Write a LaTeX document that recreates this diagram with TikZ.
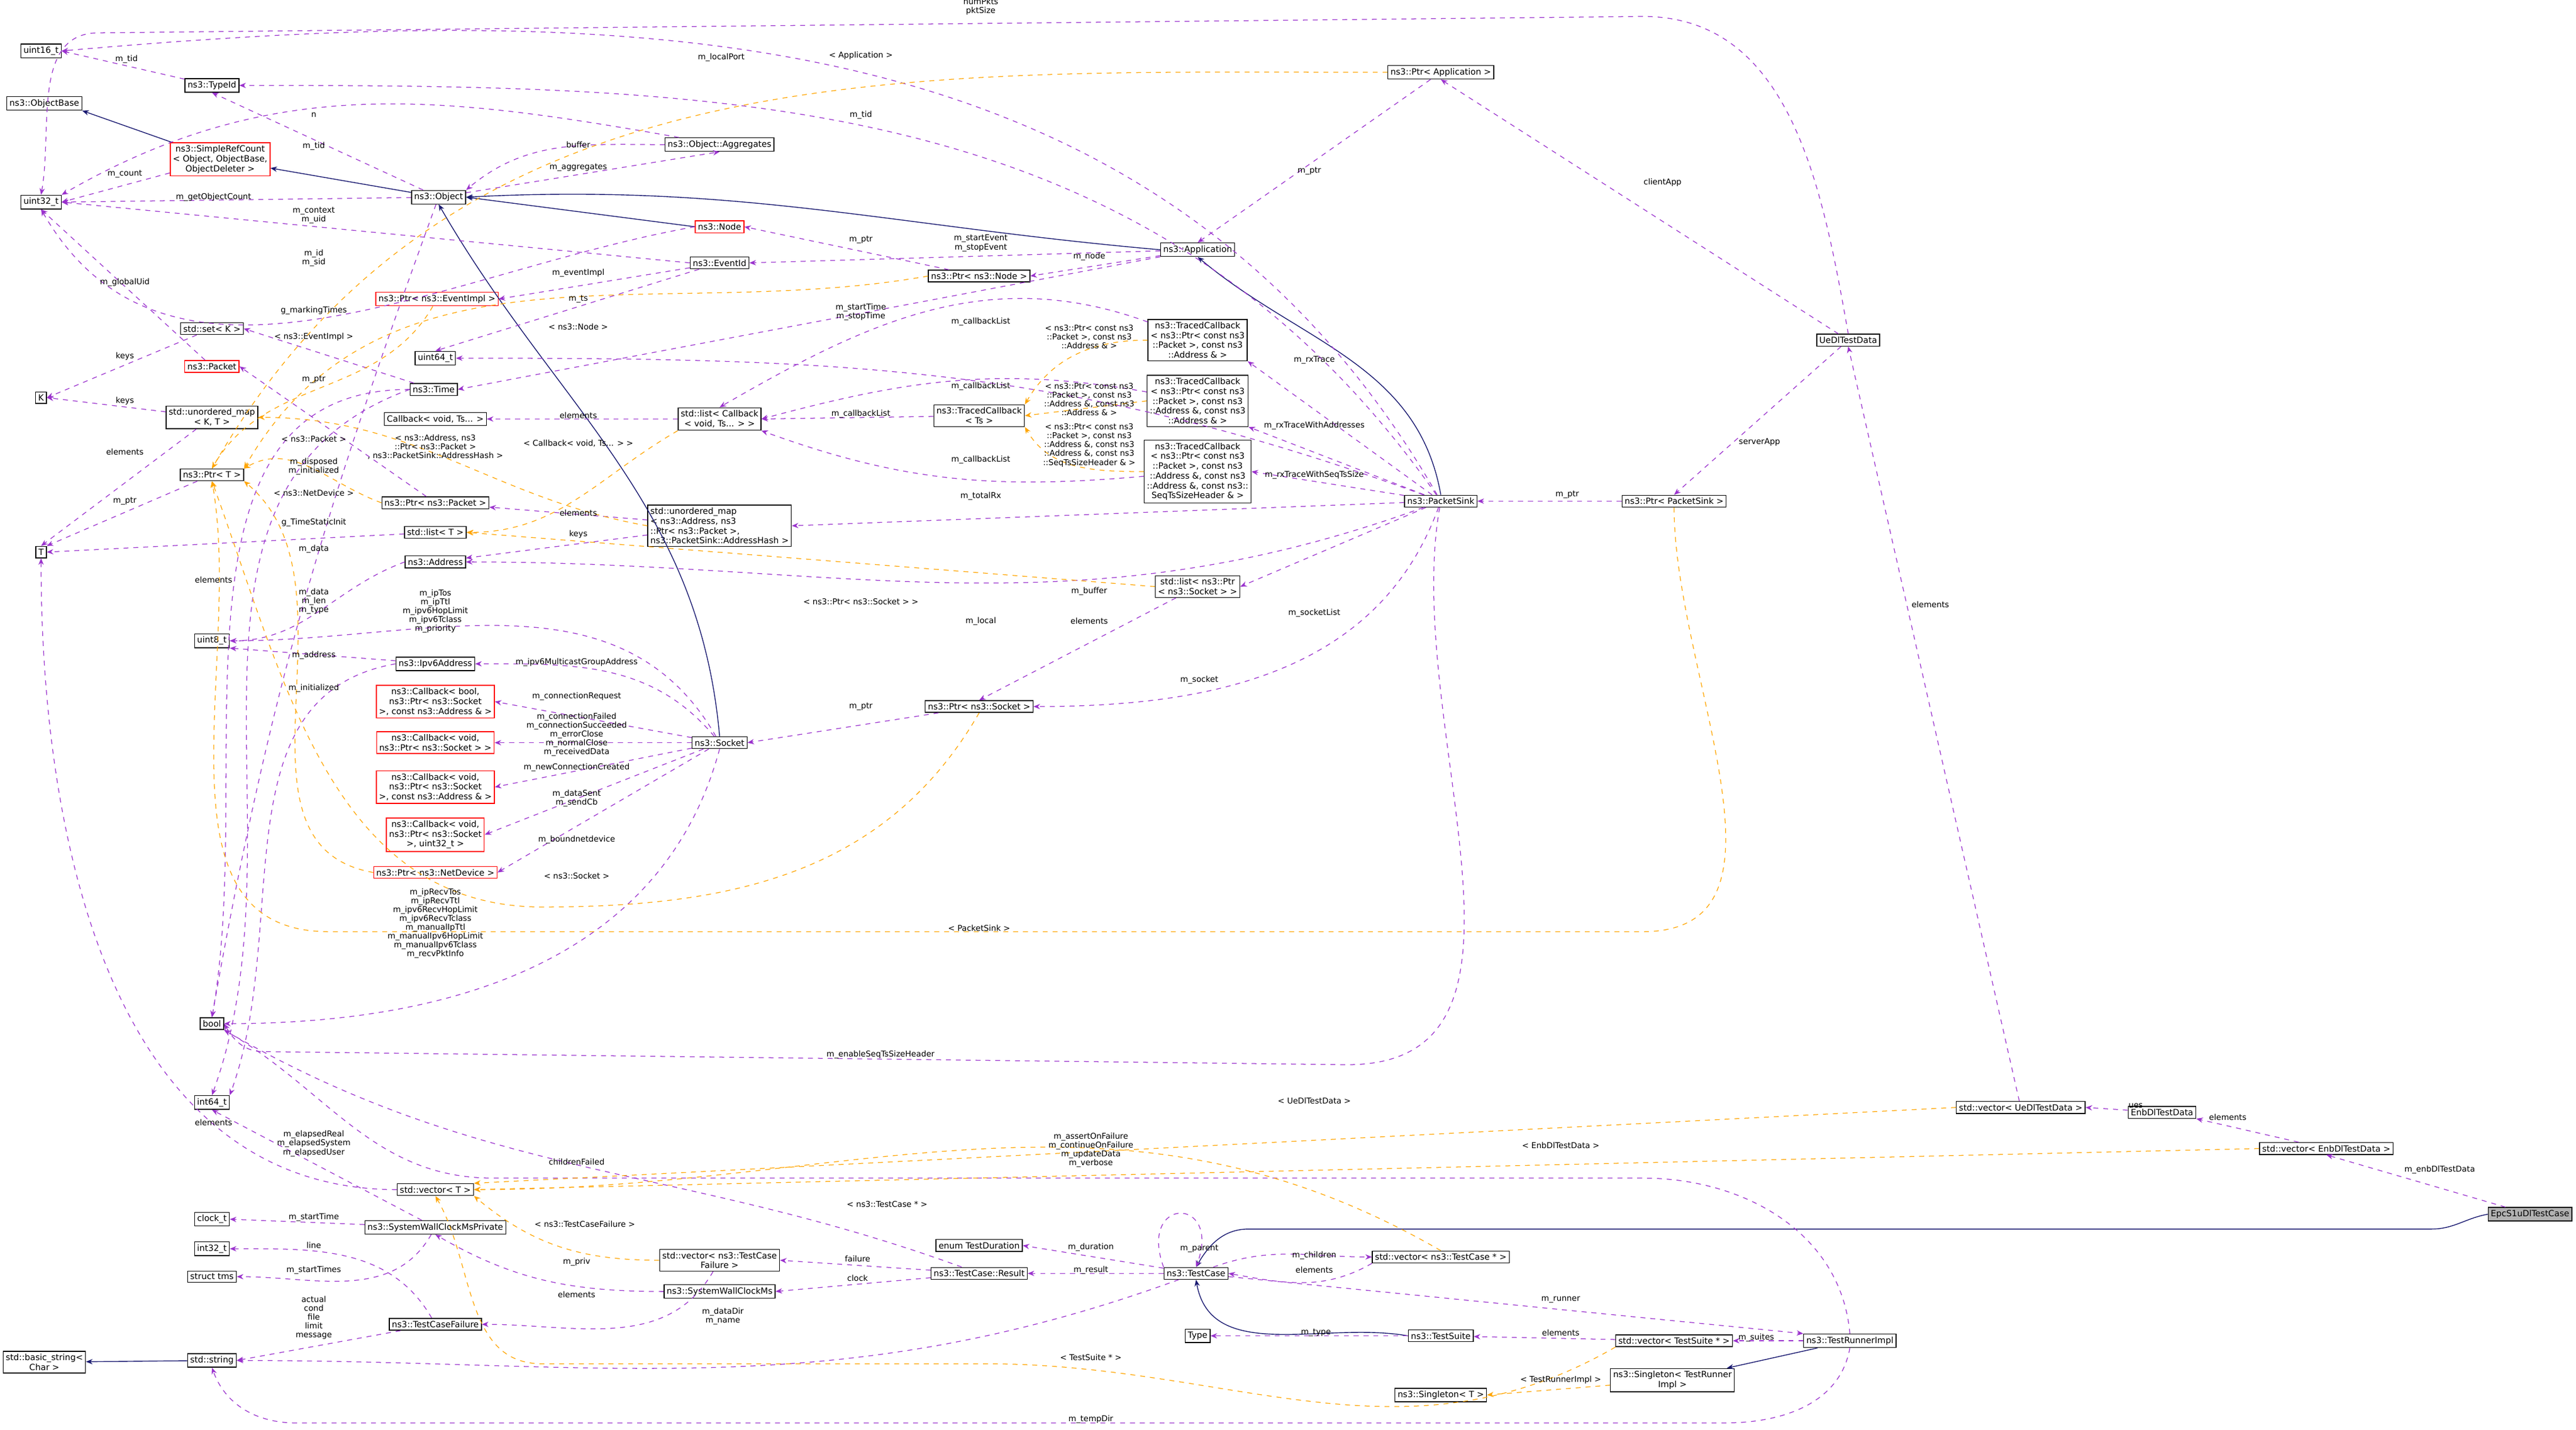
\documentclass[tikz,border=0pt]{standalone}
\usepackage{fontspec}
\setmainfont{DejaVu Sans}
\usetikzlibrary{arrows.meta}
\definecolor{usec}{HTML}{9A32CD}
\definecolor{tplc}{HTML}{FFA500}
\definecolor{inhc}{HTML}{191970}
\tikzset{
 cls/.style={draw=black,fill=white,font=\fontsize{5.2}{6}\selectfont,inner sep=1.6pt,align=center,line width=0.5pt},
 redcls/.style={cls,draw=red},
 uses/.style={draw=usec,dashed,line width=0.45pt,-{Stealth[length=4pt,width=3.2pt]}},
 tpl/.style={draw=tplc,dashed,line width=0.45pt,-{Stealth[length=4pt,width=3.2pt]}},
 inh/.style={draw=inhc,line width=0.5pt,-{Stealth[length=4pt,width=3.2pt]}},
 lbl/.style={font=\fontsize{4.9}{5.4}\selectfont,align=center,text=black,inner sep=0.3pt}
}
\begin{document}
\begin{tikzpicture}[x=1pt,y=-1pt]
\useasboundingbox (0,0) rectangle (1568,870.3);
% edges are drawn first, nodes afterwards on top: we need named nodes first, so define nodes, then edges on background via ordering trick
\node[cls] (u16) at (25,31) {uint16\_t};
\node[cls] (tid) at (129,52) {ns3::TypeId};
\node[cls] (obase) at (27,63) {ns3::ObjectBase};
\node[redcls] (src) at (134,97) {ns3::SimpleRefCount\\< Object, ObjectBase,\\ ObjectDeleter >};
\node[cls] (u32) at (25,123) {uint32\_t};
\node[cls] (obj) at (267,120) {ns3::Object};
\node[cls] (agg) at (438,88) {ns3::Object::Aggregates};
\node[redcls] (node) at (438,138) {ns3::Node};
\node[cls] (eid) at (438,160) {ns3::EventId};
\node[redcls] (pev) at (266,182) {ns3::Ptr< ns3::EventImpl >};
\node[cls] (setk) at (129,200) {std::set< K >};
\node[redcls] (pkt) at (129,223) {ns3::Packet};
\node[cls] (u64) at (265,218) {uint64\_t};
\node[cls] (time) at (264,237) {ns3::Time};
\node[cls] (K) at (25,242) {K};
\node[cls] (umkt) at (129,254) {std::unordered\_map\\< K, T >};
\node[cls] (cbv) at (265,255) {Callback< void, Ts... >};
\node[cls] (lcb) at (438,255) {std::list< Callback\\< void, Ts... > >};
\node[cls] (ptrT) at (129,289) {ns3::Ptr< T >};
\node[cls] (ppkt) at (265,306) {ns3::Ptr< ns3::Packet >};
\node[cls] (listT) at (265,324) {std::list< T >};
\node[cls,align=left] (umah) at (438,320) {std::unordered\_map\\< ns3::Address, ns3\\::Ptr< ns3::Packet >,\\ ns3::PacketSink::AddressHash >};
\node[cls] (T) at (25,336) {T};
\node[cls] (addr) at (265,342) {ns3::Address};
\node[cls] (u8) at (129,390) {uint8\_t};
\node[cls] (ipv6) at (265,404) {ns3::Ipv6Address};
\node[redcls] (cb1) at (265,427) {ns3::Callback< bool,\\ ns3::Ptr< ns3::Socket\\ >, const ns3::Address \& >};
\node[redcls] (cb2) at (265,452) {ns3::Callback< void,\\ ns3::Ptr< ns3::Socket > >};
\node[redcls] (cb3) at (265,479) {ns3::Callback< void,\\ ns3::Ptr< ns3::Socket\\ >, const ns3::Address \& >};
\node[redcls] (cb4) at (265,508) {ns3::Callback< void,\\ ns3::Ptr< ns3::Socket\\ >, uint32\_t >};
\node[redcls] (pnd) at (265,531) {ns3::Ptr< ns3::NetDevice >};
\node[cls] (sock) at (438,452) {ns3::Socket};
\node[cls] (bool) at (129,623) {bool};
\node[cls] (i64) at (129,671) {int64\_t};
\node[cls] (vecT) at (265,724) {std::vector< T >};
\node[cls] (clk) at (129,742) {clock\_t};
\node[cls] (i32) at (129,760) {int32\_t};
\node[cls] (tms) at (129,777) {struct tms};
\node[cls] (swp) at (265,747) {ns3::SystemWallClockMsPrivate};
\node[cls] (tcf) at (265,806) {ns3::TestCaseFailure};
\node[cls] (bstr) at (27,829) {std::basic\_string<\\ Char >};
\node[cls] (str) at (129,828) {std::string};
\node[cls] (vtcf) at (438,767) {std::vector< ns3::TestCase\\Failure >};
\node[cls] (swc) at (438,786) {ns3::SystemWallClockMs};
\node[cls] (dur) at (596,758) {enum TestDuration};
\node[cls] (res) at (596,775) {ns3::TestCase::Result};
\node[cls] (tc) at (728,775) {ns3::TestCase};
\node[cls] (vtc) at (877,765) {std::vector< ns3::TestCase * >};
\node[cls] (type) at (729,813) {Type};
\node[cls] (ts) at (877,813) {ns3::TestSuite};
\node[cls] (vts) at (1019,816) {std::vector< TestSuite * >};
\node[cls] (tri) at (1126,816) {ns3::TestRunnerImpl};
\node[cls] (stri) at (1018,840) {ns3::Singleton< TestRunner\\Impl >};
\node[cls] (sT) at (877,849) {ns3::Singleton< T >};
\node[cls] (papp) at (877,44) {ns3::Ptr< Application >};
\node[cls] (app) at (729,152) {ns3::Application};
\node[cls] (pnode) at (596,168) {ns3::Ptr< ns3::Node >};
\node[cls] (tc1) at (729,207) {ns3::TracedCallback\\< ns3::Ptr< const ns3\\::Packet >, const ns3\\::Address \& >};
\node[cls] (tc2) at (729,244) {ns3::TracedCallback\\< ns3::Ptr< const ns3\\::Packet >, const ns3\\::Address \&, const ns3\\::Address \& >};
\node[cls] (tc3) at (729,287) {ns3::TracedCallback\\< ns3::Ptr< const ns3\\::Packet >, const ns3\\::Address \&, const ns3\\::Address \&, const ns3::\\SeqTsSizeHeader \& >};
\node[cls] (tcts) at (596,253) {ns3::TracedCallback\\< Ts >};
\node[cls] (psink) at (877,305) {ns3::PacketSink};
\node[cls] (lps) at (729,357) {std::list< ns3::Ptr\\< ns3::Socket > >};
\node[cls] (psock) at (596,430) {ns3::Ptr< ns3::Socket >};
\node[cls] (pps) at (1019,305) {ns3::Ptr< PacketSink >};
\node[cls] (ue) at (1125,207) {UeDlTestData};
\node[cls] (vue) at (1230,674) {std::vector< UeDlTestData >};
\node[cls] (enb) at (1316,677) {EnbDlTestData};
\node[cls] (venb) at (1416,699) {std::vector< EnbDlTestData >};
\node[cls,fill=black!30] (epc) at (1540,739) {EpcS1uDlTestCase};
% inheritance
\draw[inh] (src) -- (obase.south east);
\draw[inh] (obj) -- (src);
\draw[inh] (node.west) -- (obj.east);
\draw[inh] (app.west) to[out=175,in=3] (obj.east);
\draw[inh] (sock.north) to[out=95,in=-60] (obj.south);
\draw[inh] (psink.north) to[out=100,in=-40] (app.south);
\draw[inh] (str) -- (bstr);
\draw[inh] (ts.west) to[out=170,in=-80] (tc.south);
\draw[inh] (tri) -- (stri);
\draw[inh] (epc.west) to[out=190,in=0] (1480,748) -- (760,748) to[out=180,in=60] (tc.north);
% uses
\draw[uses] (psink) to[out=120,in=5] (u16.east);
\draw[uses] (ue.north) to[out=100,in=0] (1000,10) -- (60,20) to[out=180,in=80] (u32.north);
\draw[uses] (psink) to[out=125,in=0] (tid.east);
\draw[uses] (tid) -- (u16.east);
\draw[uses] (obj) -- (tid.south);
\draw[uses] (agg) to[out=170,in=30] (u32.north east);
\draw[uses] (agg) to[out=180,in=40] (obj.north east);
\draw[uses] (obj) -- (agg.south);
\draw[uses] (src) -- (u32.east);
\draw[uses] (obj) -- (u32.east);
\draw[uses] (eid.west) -- (u32.east);
\draw[uses] (node.west) to[out=190,in=-60] (u32.south);
\draw[uses] (pkt) -- (u32.south);
\draw[uses] (eid) -- (pev.east);
\draw[uses] (eid) -- (u64.north);
\draw[uses] (app) -- (eid.east);
\draw[uses] (app) -- (pnode.east);
\draw[uses] (pnode) -- (node.east);
\draw[uses] (app) -- (time.east);
\draw[uses] (papp) -- (app.north);
\draw[uses] (ue) -- (papp.south);
\draw[uses] (ue) -- (pps.north);
\draw[uses] (pps) -- (psink.east);
\draw[uses] (time) -- (setk.east);
\draw[uses] (time.west) to[out=180,in=80] (bool.north);
\draw[uses] (time.west) to[out=200,in=70] (i64.north);
\draw[uses] (psink) to[out=160,in=0] (u64.east);
\draw[uses] (setk) -- (K.east);
\draw[uses] (umkt) -- (K.east);
\draw[uses] (umkt) -- (T.north);
\draw[uses] (ptrT) -- (T.north east);
\draw[uses] (listT) -- (T.east);
\draw[uses] (vecT.west) to[out=180,in=-90] (T.south);
\draw[uses] (ppkt) -- (pkt.east);
\draw[uses] (obj) to[out=-110,in=80] (bool.north);
\draw[uses] (lcb) -- (cbv);
\draw[uses] (umah) -- (ppkt);
\draw[uses] (umah) -- (addr);
\draw[uses] (psink) -- (umah.east);
\draw[uses] (psink) to[out=200,in=0] (addr.east);
\draw[uses] (psink) -- (lps.east);
\draw[uses] (psink) to[out=-110,in=0] (psock.east);
\draw[uses] (psink) -- (tc1.south east);
\draw[uses] (psink) -- (tc2.south east);
\draw[uses] (psink) -- (tc3.east);
\draw[uses] (psink) to[out=-100,in=0] (820,648) -- (160,640) to[out=180,in=-60] (bool.east);
\draw[uses] (tc1) to[out=160,in=30] (lcb.north);
\draw[uses] (tc2) to[out=170,in=15] (lcb.east);
\draw[uses] (tcts) -- (lcb.east);
\draw[uses] (tc3) to[out=185,in=-20] (lcb.south east);
\draw[uses] (lps) -- (psock.north);
\draw[uses] (psock) -- (sock.east);
\draw[uses] (sock) to[out=120,in=0] (u8.east);
\draw[uses] (addr.west) to[out=200,in=0] (u8.east);
\draw[uses] (sock) to[out=130,in=0] (ipv6.east);
\draw[uses] (sock) -- (cb1.east);
\draw[uses] (sock) -- (cb2.east);
\draw[uses] (sock) -- (cb3.east);
\draw[uses] (sock) -- (cb4.east);
\draw[uses] (sock) -- (pnd.east);
\draw[uses] (sock.south) to[out=-105,in=0] (bool.east);
\draw[uses] (ipv6) -- (u8.south east);
\draw[uses] (ipv6.west) to[out=190,in=70] (i64.north east);
\draw[uses] (swp) -- (i64.south);
\draw[uses] (swp) -- (clk.east);
\draw[uses] (swp) to[out=-120,in=0] (tms.east);
\draw[uses] (tcf) to[out=120,in=0] (i32.east);
\draw[uses] (tcf) -- (str.east);
\draw[uses] (vtcf) to[out=-120,in=0] (tcf.east);
\draw[uses] (swc) to[out=180,in=-30] (swp.south);
\draw[uses] (res) -- (vtcf.east);
\draw[uses] (res) -- (swc.east);
\draw[uses] (res) to[out=160,in=-30] (bool.south east);
\draw[uses] (tc) -- (dur.east);
\draw[uses] (tc) -- (res.east);
\draw[uses] (tc.north west) to[out=110,in=70,looseness=6] (tc.north);
\draw[uses] (tc) to[out=20,in=180] (vtc.west);
\draw[uses] (vtc.south west) to[out=-150,in=-10] (tc.east);
\draw[uses] (tc) -- (tri.north west);
\draw[uses] (tc) to[out=200,in=0] (str.east);
\draw[uses] (ts) -- (type);
\draw[uses] (vts) -- (ts);
\draw[uses] (tri) -- (vts);
\draw[uses] (tri.north) to[out=95,in=0] (1000,717) -- (300,717) to[out=180,in=-30] (bool.south east);
\draw[uses] (tri.south) to[out=-100,in=0] (1050,866) -- (180,866) to[out=180,in=-70] (str.south);
\draw[uses] (epc) -- (venb.south);
\draw[uses] (venb) -- (enb.south east);
\draw[uses] (enb) -- (vue.east);
\draw[uses] (vue) -- (ue.south);
% templates
\draw[tpl] (papp.west) to[out=180,in=60] (ptrT.north);
\draw[tpl] (pev) to[out=-120,in=60] (ptrT.north);
\draw[tpl] (pnode.west) to[out=190,in=60] (ptrT.north east);
\draw[tpl] (ppkt.west) to[out=160,in=30] (ptrT.north east);
\draw[tpl] (pnd.west) to[out=170,in=-40] (ptrT.south east);
\draw[tpl] (psock.south) to[out=-120,in=0] (330,552) to[out=180,in=-70] (ptrT.south);
\draw[tpl] (pps.south) to[out=-90,in=0] (1000,567) -- (200,567) to[out=180,in=-80] (ptrT.south);
\draw[tpl] (lcb.south west) to[out=-150,in=0] (listT.east);
\draw[tpl] (umah.west) to[out=170,in=0] (umkt.east);
\draw[tpl] (lps.west) -- (listT.east);
\draw[tpl] (tc1.west) to[out=180,in=60] (tcts.north east);
\draw[tpl] (tc2.west) -- (tcts.east);
\draw[tpl] (tc3.west) to[out=180,in=-60] (tcts.south east);
\draw[tpl] (vtcf.west) to[out=180,in=-40] (vecT.south east);
\draw[tpl] (vtc.north) to[out=150,in=0] (vecT.east);
\draw[tpl] (vts.south west) to[out=-150,in=0] (600,830) -- (330,830) to[out=180,in=-60] (vecT.south);
\draw[tpl] (vue.west) -- (vecT.north east);
\draw[tpl] (venb.west) -- (vecT.east);
\draw[tpl] (stri) -- (sT.east);
% labels
\node[lbl] (l1) at (439,35) {m\_localPort};
\node[lbl] (l2) at (597,4) {numPkts\\pktSize};
\node[lbl] (l3) at (524,70) {m\_tid};
\node[lbl] (l4) at (77,36) {m\_tid};
\node[lbl] (l5) at (191,89) {m\_tid};
\node[lbl] (l6) at (191,70) {n};
\node[lbl] (l7) at (352,88) {buffer};
\node[lbl] (l8) at (352,102) {m\_aggregates};
\node[lbl] (l9) at (76,106) {m\_count};
\node[lbl] (l10) at (130,120) {m\_getObjectCount};
\node[lbl] (l11) at (191,131) {m\_context\\m\_uid};
\node[lbl] (l12) at (191,157) {m\_id\\m\_sid};
\node[lbl] (l13) at (76,172) {m\_globalUid};
\node[lbl] (l14) at (352,166) {m\_eventImpl};
\node[lbl] (l15) at (352,182) {m\_ts};
\node[lbl] (l16) at (191,189) {g\_markingTimes};
\node[lbl] (l17) at (191,205) {< ns3::EventImpl >};
\node[lbl] (l18) at (352,199) {< ns3::Node >};
\node[lbl] (l19) at (76,217) {keys};
\node[lbl] (l20) at (76,244) {keys};
\node[lbl] (l21) at (76,275) {elements};
\node[lbl] (l22) at (191,231) {m\_ptr};
\node[lbl] (l23) at (191,267) {< ns3::Packet >};
\node[lbl] (l24) at (265,272) {< ns3::Address, ns3\\::Ptr< ns3::Packet >\\, ns3::PacketSink::AddressHash >};
\node[lbl] (l25) at (191,284) {m\_disposed\\m\_initialized};
\node[lbl] (l26) at (191,300) {< ns3::NetDevice >};
\node[lbl] (l27) at (191,318) {g\_TimeStaticInit};
\node[lbl] (l28) at (191,334) {m\_data};
\node[lbl] (l29) at (352,253) {elements};
\node[lbl] (l30) at (352,270) {< Callback< void, Ts... > >};
\node[lbl] (l31) at (352,312) {elements};
\node[lbl] (l32) at (352,325) {keys};
\node[lbl] (l33) at (76,305) {m\_ptr};
\node[lbl] (l34) at (130,353) {elements};
\node[lbl] (l35) at (524,146) {m\_ptr};
\node[lbl] (l36) at (597,148) {m\_startEvent\\m\_stopEvent};
\node[lbl] (l37) at (663,156) {m\_node};
\node[lbl] (l38) at (524,190) {m\_startTime\\m\_stopTime};
\node[lbl] (l39) at (597,196) {m\_callbackList};
\node[lbl] (l40) at (663,205) {< ns3::Ptr< const ns3\\::Packet >, const ns3\\::Address \& >};
\node[lbl] (l41) at (800,219) {m\_rxTrace};
\node[lbl] (l42) at (597,235) {m\_callbackList};
\node[lbl] (l43) at (663,243) {< ns3::Ptr< const ns3\\::Packet >, const ns3\\::Address \&, const ns3\\::Address \& >};
\node[lbl] (l44) at (524,252) {m\_callbackList};
\node[lbl] (l45) at (800,259) {m\_rxTraceWithAddresses};
\node[lbl] (l46) at (663,271) {< ns3::Ptr< const ns3\\::Packet >, const ns3\\::Address \&, const ns3\\::Address \&, const ns3\\::SeqTsSizeHeader \& >};
\node[lbl] (l47) at (597,280) {m\_callbackList};
\node[lbl] (l48) at (800,289) {m\_rxTraceWithSeqTsSize};
\node[lbl] (l49) at (597,302) {m\_totalRx};
\node[lbl] (l50) at (663,360) {m\_buffer};
\node[lbl] (l51) at (524,366) {< ns3::Ptr< ns3::Socket > >};
\node[lbl] (l52) at (800,373) {m\_socketList};
\node[lbl] (l53) at (597,378) {m\_local};
\node[lbl] (l54) at (663,378) {elements};
\node[lbl] (l55) at (730,414) {m\_socket};
\node[lbl] (l56) at (524,430) {m\_ptr};
\node[lbl] (l57) at (797,104) {m\_ptr};
\node[lbl] (l58) at (1012,111) {clientApp};
\node[lbl] (l59) at (1071,269) {serverApp};
\node[lbl] (l60) at (954,301) {m\_ptr};
\node[lbl] (l61) at (524,34) {< Application >};
\node[lbl] (l62) at (596,565) {< PacketSink >};
\node[lbl] (l63) at (536,642) {m\_enableSeqTsSizeHeader};
\node[lbl] (l64) at (265,372) {m\_ipTos\\m\_ipTtl\\m\_ipv6HopLimit\\m\_ipv6Tclass\\m\_priority};
\node[lbl] (l65) at (191,366) {m\_data\\m\_len\\m\_type};
\node[lbl] (l66) at (191,399) {m\_address};
\node[lbl] (l67) at (191,419) {m\_initialized};
\node[lbl] (l68) at (351,403) {m\_ipv6MulticastGroupAddress};
\node[lbl] (l69) at (351,424) {m\_connectionRequest};
\node[lbl] (l70) at (351,447) {m\_connectionFailed\\m\_connectionSucceeded\\m\_errorClose\\m\_normalClose\\m\_receivedData};
\node[lbl] (l71) at (351,467) {m\_newConnectionCreated};
\node[lbl] (l72) at (351,486) {m\_dataSent\\m\_sendCb};
\node[lbl] (l73) at (351,511) {m\_boundnetdevice};
\node[lbl] (l74) at (351,533) {< ns3::Socket >};
\node[lbl] (l75) at (265,562) {m\_ipRecvTos\\m\_ipRecvTtl\\m\_ipv6RecvHopLimit\\m\_ipv6RecvTclass\\m\_manualIpTtl\\m\_manualIpv6HopLimit\\m\_manualIpv6Tclass\\m\_recvPktInfo};
\node[lbl] (l76) at (130,683) {elements};
\node[lbl] (l77) at (191,696) {m\_elapsedReal\\m\_elapsedSystem\\m\_elapsedUser};
\node[lbl] (l78) at (191,741) {m\_startTime};
\node[lbl] (l79) at (191,758) {line};
\node[lbl] (l80) at (191,773) {m\_startTimes};
\node[lbl] (l81) at (191,802) {actual\\cond\\file\\limit\\message};
\node[lbl] (l82) at (351,707) {childrenFailed};
\node[lbl] (l83) at (356,745) {< ns3::TestCaseFailure >};
\node[lbl] (l84) at (351,768) {m\_priv};
\node[lbl] (l85) at (351,788) {elements};
\node[lbl] (l86) at (522,766) {failure};
\node[lbl] (l87) at (522,778) {clock};
\node[lbl] (l88) at (440,801) {m\_dataDir\\m\_name};
\node[lbl] (l89) at (664,759) {m\_duration};
\node[lbl] (l90) at (664,773) {m\_result};
\node[lbl] (l91) at (730,760) {m\_parent};
\node[lbl] (l92) at (800,764) {m\_children};
\node[lbl] (l93) at (800,773) {elements};
\node[lbl] (l94) at (950,791) {m\_runner};
\node[lbl] (l95) at (801,811) {m\_type};
\node[lbl] (l96) at (950,811) {elements};
\node[lbl] (l97) at (1069,814) {m\_suites};
\node[lbl] (l98) at (950,840) {< TestRunnerImpl >};
\node[lbl] (l99) at (664,826) {< TestSuite * >};
\node[lbl] (l100) at (664,864) {m\_tempDir};
\node[lbl] (l101) at (664,700) {m\_assertOnFailure\\m\_continueOnFailure\\m\_updateData\\m\_verbose};
\node[lbl] (l102) at (540,733) {< ns3::TestCase * >};
\node[lbl] (l103) at (800,670) {< UeDlTestData >};
\node[lbl] (l104) at (950,697) {< EnbDlTestData >};
\node[lbl] (l105) at (1175,368) {elements};
\node[lbl] (l106) at (1300,673) {ues};
\node[lbl] (l107) at (1356,680) {elements};
\node[lbl] (l108) at (1485,712) {m\_enbDlTestData};
\end{tikzpicture}
\end{document}
